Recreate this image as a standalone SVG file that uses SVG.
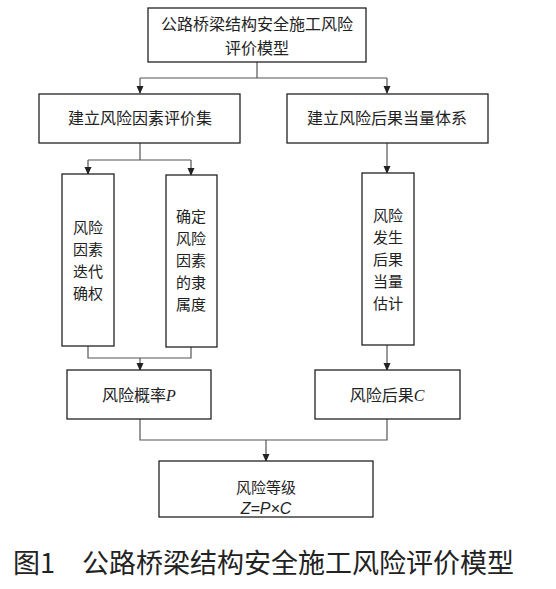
<svg xmlns="http://www.w3.org/2000/svg" width="556" height="589" viewBox="0 0 556 589">
<style>
.box{fill:#fff;stroke:#222;stroke-width:1.3}
.t{font-family:"Noto Sans CJK SC","Liberation Sans",sans-serif;font-size:16px;fill:#222;text-anchor:middle}
.s{font-size:15px}
.i{font-family:"Liberation Serif",serif;font-style:italic}
.z{font-family:"Liberation Sans",sans-serif;font-style:italic;font-size:16px;fill:#222;text-anchor:middle}
.c{fill:none;stroke:#555;stroke-width:1.2}
.cap{font-family:"Noto Sans CJK SC","Liberation Sans",sans-serif;font-size:27px;fill:#222}
</style>
<defs>
<marker id="a" markerWidth="8" markerHeight="8" refX="7" refY="4" orient="auto" markerUnits="userSpaceOnUse">
<path d="M0,0.5 L8,4 L0,7.5 Z" fill="#222"/>
</marker>
</defs>
<rect width="556" height="589" fill="#fff"/>
<g id="connectors">
<path class="c" d="M257,62 V78 M140,78 H387"/>
<path class="c" d="M140,78 V93" marker-end="url(#a)"/>
<path class="c" d="M387,78 V93" marker-end="url(#a)"/>
<path class="c" d="M140,143 V160 M88,160 H191"/>
<path class="c" d="M88,160 V174" marker-end="url(#a)"/>
<path class="c" d="M191,160 V175" marker-end="url(#a)"/>
<path class="c" d="M387,143 V173" marker-end="url(#a)"/>
<path class="c" d="M88,346 V358 H191 V347"/>
<path class="c" d="M140,358 V370" marker-end="url(#a)"/>
<path class="c" d="M387,345 V370" marker-end="url(#a)"/>
<path class="c" d="M140,419 V440 H387 V419"/>
<path class="c" d="M266,440 V461" marker-end="url(#a)"/>
</g>
<g id="n1"><rect class="box" x="148" y="8" width="218" height="54"/>
<text class="t" x="257" y="30">公路桥梁结构安全施工风险</text>
<text class="t" x="257" y="54">评价模型</text></g>
<g id="n2"><rect class="box" x="39" y="94" width="201" height="49"/>
<text class="t" x="140" y="124">建立风险因素评价集</text></g>
<g id="n3"><rect class="box" x="287" y="94" width="201" height="49"/>
<text class="t" x="387" y="124">建立风险后果当量体系</text></g>
<g id="n4"><rect class="box" x="62" y="174" width="52" height="172"/>
<text class="t s" x="88" y="233">风险</text>
<text class="t s" x="88" y="255">因素</text>
<text class="t s" x="88" y="277">迭代</text>
<text class="t s" x="88" y="299">确权</text></g>
<g id="n5"><rect class="box" x="166" y="175" width="51" height="172"/>
<text class="t s" x="191" y="222">确定</text>
<text class="t s" x="191" y="244">风险</text>
<text class="t s" x="191" y="266">因素</text>
<text class="t s" x="191" y="288">的隶</text>
<text class="t s" x="191" y="310">属度</text></g>
<g id="n6"><rect class="box" x="362" y="173" width="52" height="172"/>
<text class="t s" x="388" y="221">风险</text>
<text class="t s" x="388" y="243">发生</text>
<text class="t s" x="388" y="265">后果</text>
<text class="t s" x="388" y="287">当量</text>
<text class="t s" x="388" y="309">估计</text></g>
<g id="n7"><rect class="box" x="67" y="370" width="144" height="49"/>
<text class="t" x="139" y="401">风险概率<tspan class="i">P</tspan></text></g>
<g id="n8"><rect class="box" x="315" y="370" width="145" height="49"/>
<text class="t" x="387" y="401">风险后果<tspan class="i">C</tspan></text></g>
<g id="n9"><rect class="box" x="159" y="461" width="214" height="56"/>
<text class="t s" x="266" y="493">风险等级</text>
<text class="z" x="266" y="514">Z=P×C</text></g>
<g id="caption">
<text class="cap" x="13" y="573">图1</text>
<text class="cap" x="82" y="573">公路桥梁结构安全施工风险评价模型</text>
</g>
</svg>
